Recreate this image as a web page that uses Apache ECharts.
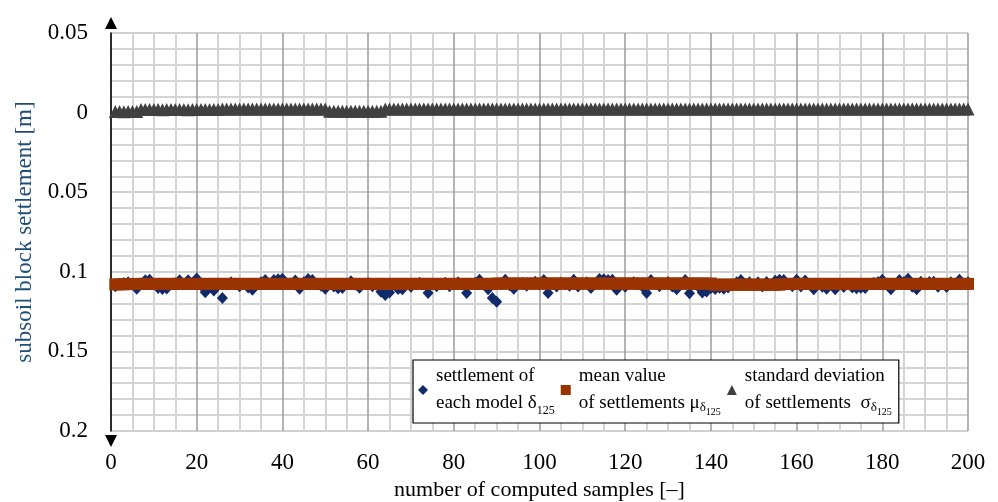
<!DOCTYPE html>
<html><head><meta charset="utf-8">
<script src="https://cdn.jsdelivr.net/npm/echarts@6/dist/echarts.min.js"></script>
<style>html,body{margin:0;padding:0;background:#fff}#c{width:998px;height:502px}</style>
</head><body><div id="c"></div>
<script>
// sample numbers 1..200
const samples = [];
for (let i = 1; i <= 200; i++) samples.push(i);

// settlement of each model δ125 [m]
const settlement = [
0.1090,0.1075,0.1070,0.1065,0.1080,0.1107,0.1075,0.1053,0.1050,0.1078,
0.1102,0.1108,0.1105,0.1080,0.1072,0.1053,0.1078,0.1053,0.1068,0.1042,
0.1085,0.1128,0.1095,0.1118,0.1080,0.1165,0.1078,0.1065,0.1075,0.1090,
0.1075,0.1098,0.1112,0.1078,0.1066,0.1052,0.1075,0.1052,0.1047,0.1044,
0.1078,0.1072,0.1055,0.1106,0.1066,0.1045,0.1052,0.1078,0.1088,0.1106,
0.1078,0.1092,0.1104,0.1102,0.1075,0.1060,0.1082,0.1100,0.1075,0.1070,
0.1090,0.1078,0.1125,0.1145,0.1130,0.1080,0.1108,0.1110,0.1078,0.1094,
0.1075,0.1068,0.1080,0.1133,0.1078,0.1090,0.1075,0.1068,0.1090,0.1078,
0.1066,0.1080,0.1133,0.1075,0.1068,0.1050,0.1080,0.1110,0.1165,0.1188,
0.1078,0.1050,0.1085,0.1106,0.1078,0.1070,0.1088,0.1075,0.1062,0.1080,
0.1052,0.1133,0.1078,0.1092,0.1068,0.1078,0.1088,0.1050,0.1092,0.1075,
0.1066,0.1102,0.1078,0.1045,0.1047,0.1052,0.1050,0.1112,0.1078,0.1094,
0.1075,0.1066,0.1080,0.1092,0.1133,0.1052,0.1078,0.1090,0.1075,0.1064,
0.1092,0.1110,0.1078,0.1051,0.1135,0.1078,0.1090,0.1130,0.1124,0.1102,
0.1108,0.1100,0.1106,0.1098,0.1080,0.1066,0.1052,0.1075,0.1066,0.1080,
0.1066,0.1092,0.1064,0.1078,0.1056,0.1050,0.1052,0.1078,0.1090,0.1050,
0.1092,0.1055,0.1080,0.1110,0.1078,0.1094,0.1106,0.1080,0.1110,0.1078,
0.1096,0.1075,0.1098,0.1104,0.1100,0.1102,0.1078,0.1068,0.1064,0.1050,
0.1080,0.1110,0.1078,0.1052,0.1066,0.1043,0.1094,0.1110,0.1062,0.1078,
0.1064,0.1063,0.1094,0.1075,0.1096,0.1066,0.1078,0.1050,0.1075,0.1066
];

// mean value of settlements μ [m]
const meanValue = [
0.1079,0.1079,0.1078,0.1077,0.1077,0.1076,0.1076,0.1076,0.1076,0.1076,
0.1076,0.1076,0.1076,0.1076,0.1076,0.1076,0.1076,0.1076,0.1076,0.1076,
0.1076,0.1076,0.1076,0.1076,0.1076,0.1076,0.1076,0.1076,0.1076,0.1076,
0.1076,0.1076,0.1076,0.1076,0.1076,0.1076,0.1076,0.1076,0.1076,0.1076,
0.1076,0.1076,0.1076,0.1076,0.1076,0.1076,0.1076,0.1076,0.1076,0.1076,
0.1076,0.1076,0.1076,0.1076,0.1076,0.1076,0.1076,0.1076,0.1076,0.1076,
0.1076,0.1076,0.1076,0.1076,0.1076,0.1076,0.1076,0.1076,0.1076,0.1076,
0.1076,0.1076,0.1076,0.1076,0.1076,0.1076,0.1076,0.1076,0.1076,0.1076,
0.1076,0.1076,0.1076,0.1076,0.1076,0.1076,0.1076,0.1076,0.1076,0.1074,
0.1074,0.1074,0.1074,0.1074,0.1074,0.1074,0.1074,0.1074,0.1074,0.1074,
0.1074,0.1074,0.1074,0.1074,0.1074,0.1074,0.1074,0.1074,0.1074,0.1074,
0.1074,0.1074,0.1074,0.1074,0.1074,0.1074,0.1074,0.1074,0.1074,0.1074,
0.1074,0.1074,0.1074,0.1074,0.1074,0.1074,0.1074,0.1074,0.1074,0.1074,
0.1074,0.1074,0.1074,0.1074,0.1074,0.1074,0.1074,0.1074,0.1074,0.1074,
0.1081,0.1081,0.1081,0.1081,0.1081,0.1081,0.1081,0.1081,0.1081,0.1081,
0.1081,0.1081,0.1081,0.1081,0.1081,0.1081,0.1076,0.1076,0.1076,0.1076,
0.1076,0.1076,0.1076,0.1076,0.1076,0.1076,0.1076,0.1076,0.1076,0.1076,
0.1076,0.1076,0.1076,0.1076,0.1076,0.1076,0.1076,0.1076,0.1076,0.1076,
0.1076,0.1076,0.1076,0.1076,0.1076,0.1076,0.1076,0.1076,0.1076,0.1076,
0.1076,0.1076,0.1076,0.1076,0.1076,0.1076,0.1076,0.1076,0.1076,0.1076
];

// standard deviation of settlements σ (as plotted) [m]
const stdDev = [
-0.0007,-0.0007,-0.0006,-0.0007,-0.0007,-0.0007,-0.0019,-0.0019,-0.0020,-0.0019,
-0.0019,-0.0018,-0.0019,-0.0020,-0.0019,-0.0019,-0.0019,-0.0018,-0.0019,-0.0019,
-0.0020,-0.0019,-0.0019,-0.0019,-0.0019,-0.0022,-0.0022,-0.0022,-0.0023,-0.0022,
-0.0022,-0.0022,-0.0022,-0.0023,-0.0022,-0.0022,-0.0022,-0.0022,-0.0022,-0.0023,
-0.0022,-0.0022,-0.0022,-0.0022,-0.0023,-0.0022,-0.0022,-0.0022,-0.0022,-0.0022,
-0.0009,-0.0009,-0.0008,-0.0009,-0.0009,-0.0009,-0.0009,-0.0008,-0.0009,-0.0009,
-0.0009,-0.0009,-0.0009,-0.0022,-0.0022,-0.0023,-0.0022,-0.0022,-0.0022,-0.0022,
-0.0023,-0.0022,-0.0022,-0.0022,-0.0022,-0.0023,-0.0022,-0.0022,-0.0022,-0.0022,
-0.0022,-0.0023,-0.0022,-0.0022,-0.0022,-0.0022,-0.0022,-0.0023,-0.0022,-0.0022,
-0.0022,-0.0022,-0.0022,-0.0023,-0.0022,-0.0022,-0.0022,-0.0022,-0.0022,-0.0023,
-0.0022,-0.0022,-0.0022,-0.0022,-0.0023,-0.0022,-0.0022,-0.0022,-0.0022,-0.0022,
-0.0023,-0.0022,-0.0022,-0.0022,-0.0022,-0.0023,-0.0022,-0.0022,-0.0022,-0.0022,
-0.0022,-0.0023,-0.0022,-0.0022,-0.0022,-0.0022,-0.0023,-0.0022,-0.0022,-0.0022,
-0.0022,-0.0022,-0.0023,-0.0022,-0.0022,-0.0022,-0.0022,-0.0023,-0.0022,-0.0022,
-0.0022,-0.0022,-0.0022,-0.0023,-0.0022,-0.0022,-0.0022,-0.0022,-0.0022,-0.0023,
-0.0022,-0.0022,-0.0022,-0.0022,-0.0023,-0.0022,-0.0022,-0.0022,-0.0022,-0.0022,
-0.0023,-0.0022,-0.0022,-0.0022,-0.0022,-0.0023,-0.0022,-0.0022,-0.0022,-0.0022,
-0.0022,-0.0023,-0.0022,-0.0022,-0.0022,-0.0022,-0.0023,-0.0022,-0.0022,-0.0022,
-0.0022,-0.0022,-0.0023,-0.0022,-0.0022,-0.0022,-0.0022,-0.0023,-0.0022,-0.0022,
-0.0022,-0.0022,-0.0022,-0.0023,-0.0022,-0.0022,-0.0022,-0.0022,-0.0022,-0.0023
];

const xTicks = [0, 20, 40, 60, 80, 100, 120, 140, 160, 180, 200];
const yTicks = [-0.05, 0, 0.05, 0.1, 0.15, 0.2];
const seriesNames = ['settlement', 'mean', 'std'];
const xTitle = 'number of computed samples [–]';
const yTitle = 'subsoil block settlement [m]';

const serif = 'Liberation Serif';
const legendLabels = {
  settlement: 'settlement of\neach model δ{s|125}',
  mean: 'mean value\nof settlements μ{d|δ}{s2|125}',
  std: 'standard deviation\nof settlements  σ{d|δ}{s2|125}'
};

const chart = echarts.init(document.getElementById('c'));
chart.setOption({
  animation: false,
  backgroundColor: '#fff',
  grid: { left: 111, right: 30, top: 33, bottom: 71, outerBoundsMode: 'none', containLabel: false },
  xAxis: {
    type: 'value',
    min: xTicks[0], max: xTicks[xTicks.length - 1], interval: 20,
    name: xTitle, nameLocation: 'middle', nameGap: 47,
    nameTextStyle: { fontFamily: serif, fontSize: 22, color: '#000' },
    axisLine: { show: false }, axisTick: { show: false },
    axisLabel: { fontFamily: serif, fontSize: 23, color: '#000', margin: 20 },
    splitLine: { show: true, lineStyle: { color: '#9a9a9a', width: 1.5 } },
    minorTick: { show: false, splitNumber: 4 },
    minorSplitLine: { show: true, lineStyle: { color: '#d4d4d4', width: 2 } }
  },
  yAxis: {
    type: 'value', inverse: true,
    min: yTicks[0], max: yTicks[yTicks.length - 1], interval: 0.05,
    name: yTitle, nameLocation: 'middle', nameGap: 74, nameRotate: 90,
    nameTextStyle: { fontFamily: serif, fontSize: 23, color: '#1f4e79' },
    axisLine: { show: true, onZero: false, lineStyle: { color: '#000', width: 1.5 },
      symbol: ['triangle', 'triangle'], symbolSize: [12, 12], symbolOffset: [-10, 10] },
    axisTick: { show: false },
    axisLabel: { fontFamily: serif, fontSize: 23, color: '#000', margin: 23,
      formatter: v => String(parseFloat(Math.abs(v).toFixed(3))) },
    splitLine: { show: true, lineStyle: { color: '#d0d0d0', width: 2 } },
    minorTick: { show: false, splitNumber: 5 },
    minorSplitLine: { show: true, lineStyle: { color: '#d4d4d4', width: 2 } }
  },
  legend: {
    left: 413, top: 360, orient: 'horizontal',
    backgroundColor: '#fff', borderColor: '#000', borderWidth: 1.2, borderRadius: 0,
    padding: [3, 7, 6, 5], itemGap: 6, itemWidth: 10, itemHeight: 10,
    selectedMode: false,
    data: [
      { name: 'settlement', icon: 'diamond', itemStyle: { color: '#0f2b6b' } },
      { name: 'mean', icon: 'rect', itemStyle: { color: '#993300' } },
      { name: 'std', icon: 'triangle', itemStyle: { color: '#404040' } }
    ],
    formatter: n => legendLabels[n],
    textStyle: {
      fontFamily: serif, fontSize: 19, color: '#000', lineHeight: 27, padding: [0, 0, 0, 3],
      rich: {
        s: { fontFamily: serif, fontSize: 12, color: '#000', verticalAlign: 'bottom', lineHeight: 14 },
        d: { fontFamily: serif, fontSize: 13, color: '#000', verticalAlign: 'bottom', lineHeight: 15, padding: [0, 0, 3, 0] },
        s2: { fontFamily: serif, fontSize: 10, color: '#000', verticalAlign: 'bottom', lineHeight: 11 }
      }
    }
  },
  series: [
    { name: seriesNames[0], type: 'scatter', symbol: 'diamond', symbolSize: [11, 12],
      itemStyle: { color: '#0f2b6b', opacity: 1 },
      data: samples.map((s, i) => [s, settlement[i]]), z: 2 },
    { name: seriesNames[1], type: 'scatter', symbol: 'rect', symbolSize: 12,
      itemStyle: { color: '#993300', opacity: 1 },
      data: samples.map((s, i) => [s, meanValue[i]]), z: 3 },
    { name: seriesNames[2], type: 'scatter', symbol: 'triangle', symbolSize: 13,
      itemStyle: { color: '#404040', opacity: 1 },
      data: samples.map((s, i) => [s, stdDev[i]]), z: 4 }
  ]
});
</script>
</body></html>
